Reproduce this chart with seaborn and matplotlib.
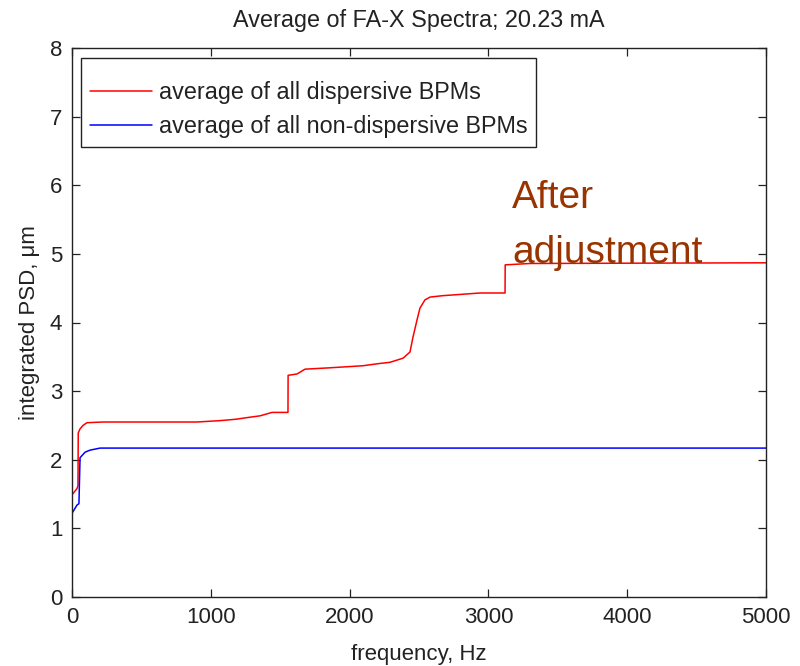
import matplotlib
matplotlib.use("Agg")
import matplotlib.pyplot as plt
import seaborn as sns
import pandas as pd

# ---- data ----
freq_dispersive = [0, 36, 43, 45, 58, 79, 108, 223, 900, 1066, 1180, 1282, 1355, 1441,
                   1556, 1557, 1621, 1679, 1859, 2097, 2205, 2291, 2385, 2435, 2457,
                   2486, 2507, 2543, 2579, 2666, 2940, 3120, 3121, 3300, 5000]
psd_dispersive = [1.49, 1.58, 1.62, 2.39, 2.45, 2.50, 2.54, 2.55, 2.55, 2.57, 2.59, 2.62,
                  2.64, 2.69, 2.69, 3.23, 3.25, 3.32, 3.34, 3.37, 3.40, 3.42, 3.48, 3.57,
                  3.79, 4.04, 4.21, 4.33, 4.37, 4.39, 4.43, 4.43, 4.84, 4.86, 4.87]

freq_nondispersive = [0, 36, 50, 58, 94, 130, 202, 5000]
psd_nondispersive = [1.22, 1.34, 1.36, 2.03, 2.11, 2.14, 2.17, 2.17]

series_labels = ["average of all dispersive BPMs", "average of all non-dispersive BPMs"]
title_text = "Average of FA-X Spectra; 20.23 mA"
xlabel_text = "frequency, Hz"
ylabel_text = "integrated PSD, \u03bcm"
annotation_lines = ["After", "adjustment"]
x_ticks = [0, 1000, 2000, 3000, 4000, 5000]
y_ticks = [0, 1, 2, 3, 4, 5, 6, 7, 8]

df_red = pd.DataFrame({"f": freq_dispersive, "psd": psd_dispersive})
df_blue = pd.DataFrame({"f": freq_nondispersive, "psd": psd_nondispersive})

sns.set_theme(style="white")
plt.rcParams["font.family"] = ["Liberation Sans", "DejaVu Sans"]

fig = plt.figure(figsize=(8, 6.66), dpi=100)
ax = fig.add_axes([72 / 800, 1 - 597 / 666, (766 - 72) / 800, (597 - 48) / 666])

sns.lineplot(data=df_red, x="f", y="psd", ax=ax, color="#ff0000", linewidth=1.1,
             label=series_labels[0], sort=False, estimator=None)
sns.lineplot(data=df_blue, x="f", y="psd", ax=ax, color="#0000ff", linewidth=1.1,
             label=series_labels[1], sort=False, estimator=None)

ax.set_xlim(0, 5000)
ax.set_ylim(0, 8)
ax.set_xticks(x_ticks)
ax.set_yticks(y_ticks)
ax.set_xticklabels([str(t) for t in x_ticks])
ax.set_yticklabels([str(t) for t in y_ticks])

fs = 16
ax.tick_params(direction="in", length=6, width=0.9, colors="#222222", labelsize=fs,
               top=True, right=True, bottom=True, left=True, pad=7)
for s in ax.spines.values():
    s.set_color("#222222")
    s.set_linewidth(1.0)

ax.set_title(title_text, fontsize=16.8, color="#222222", pad=15)
ax.set_xlabel(xlabel_text, fontsize=fs, color="#222222", labelpad=12)
ax.set_ylabel(ylabel_text, fontsize=fs, color="#222222", labelpad=7)

ax.text(3170, 5.67, annotation_lines[0], fontsize=28, color="#993300",
        ha="left", va="baseline")
ax.text(3170, 4.87, annotation_lines[1], fontsize=28, color="#993300",
        ha="left", va="baseline")

leg = ax.legend(loc="upper left", bbox_to_anchor=(0.013, 0.982), fontsize=16.8,
                title=" ", title_fontsize=2.5,
                frameon=True, fancybox=False, edgecolor="#222222", framealpha=1,
                handlelength=2.65, handletextpad=0.3,
                labelspacing=0.45, borderpad=0.38, borderaxespad=0)
leg.get_frame().set_linewidth(1.0)
for t in leg.get_texts():
    t.set_color("#222222")

fig.savefig("out.png", dpi=100)
